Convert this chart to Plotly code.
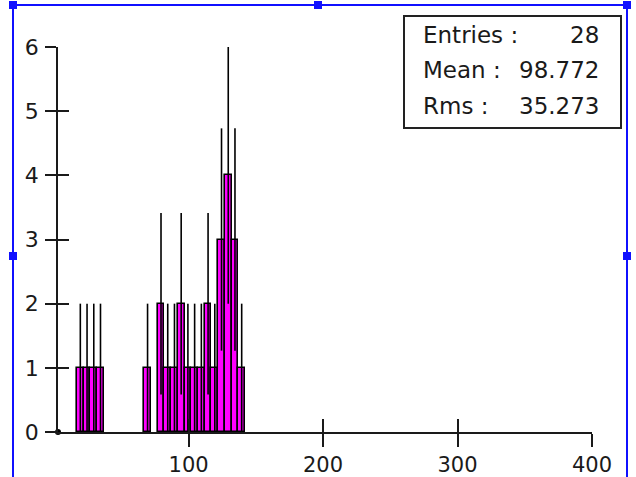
import numpy as np
import plotly.graph_objects as go

# Histogram contents (bin width 5, edges at 2 + 5k)
bin_centers = [19.5, 24.5, 29.5, 34.5, 69.5, 79.5, 84.5, 89.5, 94.5, 99.5,
               104.5, 109.5, 114.5, 119.5, 124.5, 129.5, 134.5, 139.5]
bin_counts = [1, 1, 1, 1, 1, 2, 1, 1, 2, 1, 1, 1, 2, 1, 3, 4, 3, 1]
bin_width = 5

# Statistics box
stat_labels = ["Entries :", "Mean :", "Rms :"]
stat_values = ["28", "98.772", "35.273"]

# Axes
x_ticks = [100, 200, 300, 400]
y_ticks = [0, 1, 2, 3, 4, 5, 6]
x_range = [2.9, 400]
y_range = [0, 6]

W, H = 636, 477
ML, MR, MT, MB = 58, 44, 47, 45
PW, PH = W - ML - MR, H - MT - MB


def px(xp):
    """Pixel column -> paper x."""
    return (xp - ML) / PW


def py(yp):
    """Pixel row -> paper y."""
    return (H - MB - yp) / PH


FONT = "DejaVu Sans"
INK = "#1a1a1a"
BLUE = "#1010ff"

counts = np.array(bin_counts, dtype=float)

fig = go.Figure()
fig.add_trace(go.Bar(
    x=bin_centers, y=bin_counts, width=bin_width,
    marker=dict(color="#ff00ff", line=dict(color="black", width=1.6)),
    error_y=dict(type="data", array=np.sqrt(counts), symmetric=True,
                 color="black", thickness=1.6, width=0),
    showlegend=False, hoverinfo="skip",
))

# Origin marker on the overlay axes (which also carry the inner tick halves)
fig.add_trace(go.Scatter(
    x=[x_range[0]], y=[y_range[0]], xaxis="x2", yaxis="y2", mode="markers",
    marker=dict(color="black", size=6), cliponaxis=False,
    showlegend=False, hoverinfo="skip",
))

axis_common = dict(showgrid=False, zeroline=False, linecolor=INK, linewidth=1.6,
                   tickcolor=INK, tickwidth=1.6, automargin=False)

fig.update_layout(
    width=W, height=H,
    margin=dict(l=ML, r=MR, t=MT, b=MB, pad=0, autoexpand=False),
    paper_bgcolor="white", plot_bgcolor="white",
    bargap=0,
    font=dict(family=FONT, color=INK),
    xaxis=dict(range=x_range, tickvals=x_ticks, ticks="outside", ticklen=13,
               showline=True, tickfont=dict(size=21, family=FONT, color=INK),
               ticklabelstandoff=0, **axis_common),
    yaxis=dict(range=y_range, tickvals=y_ticks, ticks="outside", ticklen=11,
               showline=True, tickfont=dict(size=22, family=FONT, color=INK),
               ticklabelstandoff=2, **axis_common),
    xaxis2=dict(range=x_range, tickvals=x_ticks, ticks="inside", ticklen=13,
                overlaying="x", anchor="y2", showline=False,
                showticklabels=False, **axis_common),
    yaxis2=dict(range=y_range, tickvals=y_ticks, ticks="inside", ticklen=11,
                overlaying="y", anchor="x2", side="left", showline=False,
                showticklabels=False, **axis_common),
)

shapes = []
# Statistics box outline
shapes.append(dict(type="rect", xref="paper", yref="paper",
                   x0=px(404), x1=px(621), y0=py(128), y1=py(16),
                   line=dict(color="#222", width=2), fillcolor="white", layer="above"))

# Selection frame around the plot region
frame = dict(color=BLUE, width=2)
shapes.append(dict(type="line", xref="paper", yref="paper",
                   x0=px(13), x1=px(627), y0=py(5), y1=py(5), line=frame))
shapes.append(dict(type="line", xref="paper", yref="paper",
                   x0=px(13), x1=px(13), y0=py(5), y1=py(480), line=frame))
shapes.append(dict(type="line", xref="paper", yref="paper",
                   x0=px(627), x1=px(627), y0=py(5), y1=py(480), line=frame))
for hx, hy in [(13, 5), (318, 5), (627, 5), (13, 256), (627, 256)]:
    shapes.append(dict(type="rect", xref="paper", yref="paper",
                       xsizemode="pixel", ysizemode="pixel",
                       xanchor=px(hx), yanchor=py(hy),
                       x0=-4, x1=4, y0=-4, y1=4,
                       line=dict(width=0), fillcolor=BLUE))
fig.update_layout(shapes=shapes)

annotations = []
for i, (lab, val) in enumerate(zip(stat_labels, stat_values)):
    yy = py(35 + i * 35.5)
    annotations.append(dict(text=lab, xref="paper", yref="paper",
                            x=px(421), y=yy, xanchor="left", yanchor="middle",
                            showarrow=False, font=dict(size=23, family=FONT, color=INK)))
    annotations.append(dict(text=val, xref="paper", yref="paper",
                            x=px(601), y=yy, xanchor="right", yanchor="middle",
                            showarrow=False, font=dict(size=23, family=FONT, color=INK)))
fig.update_layout(annotations=annotations)

fig.write_html("out.html")
